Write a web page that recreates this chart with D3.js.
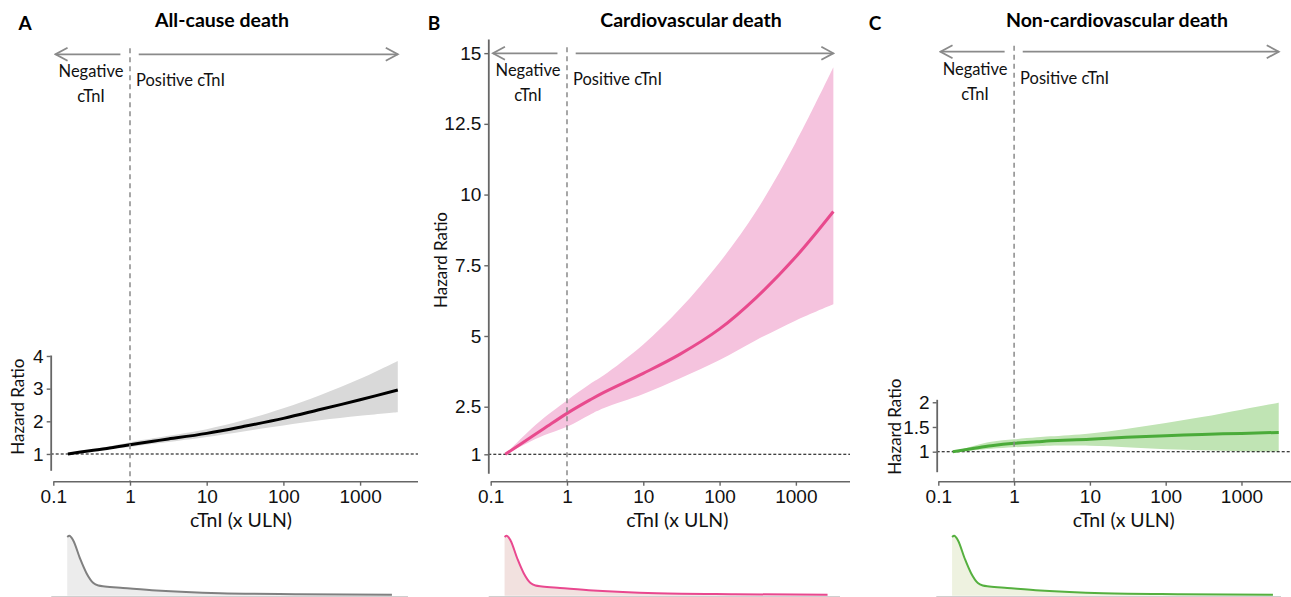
<!DOCTYPE html>
<html>
<head>
<meta charset="utf-8">
<script src="https://cdn.jsdelivr.net/npm/d3@7"></script>
<style>
  body { margin: 0; background: #fff; }
  svg { font-family: Lato, "Open Sans", sans-serif; }
</style>
</head>
<body>
<div id="chart"></div>
<script>
// x grid (cTnI, x ULN) shared by all spline curves
const cTnI = [0.155, 0.3, 0.5, 1, 2, 3, 10, 30, 100, 300, 1000, 3100];

// A: all-cause death
const hrAllCause   = [1, 1.10, 1.17, 1.28, 1.39, 1.45, 1.63, 1.84, 2.09, 2.36, 2.66, 2.96];
const upAllCause   = [1, 1.13, 1.22, 1.36, 1.48, 1.55, 1.76, 2.03, 2.40, 2.80, 3.30, 3.85];
const loAllCause   = [1, 1.07, 1.13, 1.21, 1.31, 1.36, 1.52, 1.69, 1.87, 2.03, 2.17, 2.28];

// B: cardiovascular death
const hrCardio     = [1, 1.46, 1.81, 2.29, 2.74, 3.00, 3.68, 4.35, 5.25, 6.35, 7.80, 9.40];
const upCardio     = [1, 1.68, 2.15, 2.72, 3.30, 3.60, 4.70, 5.95, 7.60, 9.40, 11.85, 14.5];
const loCardio     = [1, 1.35, 1.60, 1.87, 2.25, 2.45, 2.95, 3.50, 4.15, 4.85, 5.55, 6.12];

// C: non-cardiovascular death
const hrNonCardio  = [1, 1.07, 1.12, 1.17, 1.20, 1.22, 1.25, 1.29, 1.32, 1.35, 1.37, 1.39];
const upNonCardio  = [1, 1.12, 1.20, 1.25, 1.29, 1.31, 1.37, 1.46, 1.58, 1.70, 1.85, 1.99];
const loNonCardio  = [1, 1.03, 1.06, 1.09, 1.11, 1.12, 1.12, 1.09, 1.05, 1.03, 1.01, 1.00];

// distribution of cTnI (relative density)
const densX = [0.152, 0.162, 0.182, 0.223, 0.272, 0.333, 0.386, 0.47, 0.81, 2.2, 15, 160, 2600];
const densY = [0.98, 1.0, 0.92, 0.62, 0.37, 0.21, 0.17, 0.155, 0.13, 0.085, 0.04, 0.025, 0.015];

const xTicks = [0.1, 1, 10, 100, 1000];
const yTicksA = [1, 2, 3, 4];
const yTicksB = [1, 2.5, 5, 7.5, 10, 12.5, 15];
const yTicksC = [1, 1.5, 2];

const titles = ["All-cause death", "Cardiovascular death", "Non-cardiovascular death"];
const letters = ["A", "B", "C"];
const arrowNeg = [0.75, 0.107];
const arrowPos = [1.3, 3100];

const width = 1291, height = 597;
const svg = d3.select("#chart").append("svg")
    .attr("width", width).attr("height", height)
    .attr("viewBox", [0, 0, width, height]);

svg.append("defs").append("marker")
    .attr("id", "chev")
    .attr("markerUnits", "userSpaceOnUse")
    .attr("viewBox", "-14 -8 16 16")
    .attr("refX", 0).attr("refY", 0)
    .attr("markerWidth", 16).attr("markerHeight", 16)
    .attr("orient", "auto")
  .append("path")
    .attr("d", "M-12,-6.5L0,0L-12,6.5")
    .attr("fill", "none").attr("stroke", "#8a8a8a").attr("stroke-width", 1.8);

const panels = [
  { title: titles[0], letter: letters[0], letterX: 25, titleX: 222,
    xRange: [53.3, 413.7], axisEnd: 418, yAxisX: 50.7,
    y: d3.scaleLinear().domain([0.5, 4.03]).range([470.3, 355]),
    yTicks: yTicksA, hr: hrAllCause, up: upAllCause, lo: loAllCause,
    band: "#d9d9d9", line: "#000000",
    densStroke: "#808080", densFill: "#ececec",
    arrowY: 54.3, yLabel: [24, 406.7] },
  { title: titles[1], letter: letters[1], letterX: 434, titleX: 691,
    xRange: [490.7, 849.2], axisEnd: 850, yAxisX: 488.3,
    y: d3.scaleLinear().domain([0.4, 1, 2.5, 15.5]).range([473.3, 454.3, 406.7, 39]),
    yTicks: yTicksB, hr: hrCardio, up: upCardio, lo: loCardio,
    band: "#f5c3de", line: "#e84a8d",
    densStroke: "#e9488f", densFill: "#f2e1df",
    arrowY: 53.3, yLabel: [447, 260] },
  { title: titles[2], letter: letters[2], letterX: 875, titleX: 1117,
    xRange: [938.3, 1291], axisEnd: 1291, yAxisX: 936.7,
    y: d3.scaleLinear().domain([0.595, 2.06]).range([471.7, 399.3]),
    yTicks: yTicksC, hr: hrNonCardio, up: upNonCardio, lo: loNonCardio,
    band: "#c0e4b4", line: "#4aab39",
    densStroke: "#55b03f", densFill: "#eef2e0",
    arrowY: 51.7, yLabel: [901, 426.7] }
];

const xAxisY = 481.7;
const densBase = 595.7, densTop = 535.7;
const smooth = d3.curveCatmullRom.alpha(0.5);

panels.forEach((p, i) => {
  const g = svg.append("g");
  const x = d3.scaleLog().domain([0.1, i === 2 ? 4500 : 5000]).range(p.xRange);
  const y = p.y;
  const yd = d3.scaleLinear().domain([0, 1]).range([densBase, densTop]);

  // letter + title
  g.append("text").attr("x", p.letterX).attr("y", 30)
    .attr("text-anchor", "middle").attr("font-weight", 700).attr("font-size", 19)
    .text(p.letter);
  g.append("text").attr("x", p.titleX).attr("y", 26.5)
    .attr("text-anchor", "middle").attr("font-weight", 700).attr("font-size", 19.5)
    .text(p.title);

  // CI band
  const pts = cTnI.map((c, k) => ({c, hr: p.hr[k], up: p.up[k], lo: p.lo[k]}));
  g.append("path").datum(pts)
    .attr("fill", p.band)
    .attr("d", d3.area().curve(smooth)
      .x(d => x(d.c)).y0(d => y(d.lo)).y1(d => y(d.up)));

  // reference HR = 1
  g.append("line")
    .attr("x1", p.yAxisX).attr("x2", p.axisEnd)
    .attr("y1", y(1)).attr("y2", y(1))
    .attr("stroke", "#000").attr("stroke-width", 1.1).attr("stroke-dasharray", "3,2");

  // spline
  g.append("path").datum(pts)
    .attr("fill", "none").attr("stroke", p.line).attr("stroke-width", 3)
    .attr("d", d3.line().curve(smooth).x(d => x(d.c)).y(d => y(d.hr)));

  // cut-off at 1 x ULN
  g.append("line")
    .attr("x1", x(1)).attr("x2", x(1))
    .attr("y1", p.arrowY - 6).attr("y2", xAxisY)
    .attr("stroke", "#8a8a8a").attr("stroke-width", 1.5).attr("stroke-dasharray", "5,4");

  // arrows
  g.append("line")
    .attr("x1", x(arrowNeg[0])).attr("x2", x(arrowNeg[1]))
    .attr("y1", p.arrowY).attr("y2", p.arrowY)
    .attr("stroke", "#8a8a8a").attr("stroke-width", 1.8).attr("marker-end", "url(#chev)");
  g.append("line")
    .attr("x1", x(arrowPos[0])).attr("x2", x(arrowPos[1]))
    .attr("y1", p.arrowY).attr("y2", p.arrowY)
    .attr("stroke", "#8a8a8a").attr("stroke-width", 1.8).attr("marker-end", "url(#chev)");

  const ann = g.append("g").attr("font-size", 16.5).attr("fill", "#111");
  ann.append("text").attr("x", x(1) - 39).attr("y", p.arrowY + 23)
    .attr("text-anchor", "middle").text("Negative");
  ann.append("text").attr("x", x(1) - 39).attr("y", p.arrowY + 48)
    .attr("text-anchor", "middle").text("cTnI");
  ann.append("text").attr("x", x(1) + 6).attr("y", p.arrowY + 32)
    .text("Positive cTnI");

  // axes
  const xa = g.append("g").attr("transform", `translate(0,${xAxisY})`)
    .call(d3.axisBottom(x).tickValues(xTicks).tickFormat(d3.format("~g"))
      .tickSize(4).tickPadding(4).tickSizeOuter(0));
  xa.select(".domain").attr("stroke", "#666").attr("stroke-width", 1.6)
    .attr("d", `M${p.xRange[0]},0H${p.axisEnd}`);
  xa.selectAll(".tick line").attr("stroke", "#666").attr("stroke-width", 1.4);
  xa.selectAll(".tick text").attr("font-size", 19).attr("font-family", null).attr("fill", "#111");

  const ya = g.append("g").attr("transform", `translate(${p.yAxisX},0)`)
    .call(d3.axisLeft(y).tickValues(p.yTicks).tickFormat(d3.format("~g"))
      .tickSize(4).tickPadding(3).tickSizeOuter(0));
  ya.select(".domain").attr("stroke", "#666").attr("stroke-width", 1.8);
  ya.selectAll(".tick line").attr("stroke", "#666").attr("stroke-width", 1.4);
  ya.selectAll(".tick text").attr("font-size", 19).attr("font-family", null).attr("fill", "#111");

  g.append("text")
    .attr("transform", `translate(${p.yLabel[0]},${p.yLabel[1]}) rotate(-90)`)
    .attr("text-anchor", "middle").attr("font-size", 17).attr("fill", "#111")
    .text("Hazard Ratio");
  g.append("text").attr("x", x(28)).attr("y", 526.5)
    .attr("text-anchor", "middle").attr("font-size", 19.5).attr("fill", "#111")
    .text("cTnI (x ULN)");

  // density strip
  const dens = densX.map((c, k) => ({c, v: densY[k]}));
  g.append("line")
    .attr("x1", p.xRange[0] - 2).attr("x2", p.axisEnd - 10)
    .attr("y1", densBase + 1).attr("y2", densBase + 1)
    .attr("stroke", "#cfcfcf").attr("stroke-width", 1.5);
  g.append("path").datum(dens)
    .attr("fill", p.densFill)
    .attr("d", d3.area().curve(d3.curveMonotoneX).x(d => x(d.c)).y0(densBase).y1(d => yd(d.v)));
  g.append("path").datum(dens)
    .attr("fill", "none").attr("stroke", p.densStroke).attr("stroke-width", 2)
    .attr("d", d3.line().curve(d3.curveMonotoneX).x(d => x(d.c)).y(d => yd(d.v)));
});
</script>
</body>
</html>
